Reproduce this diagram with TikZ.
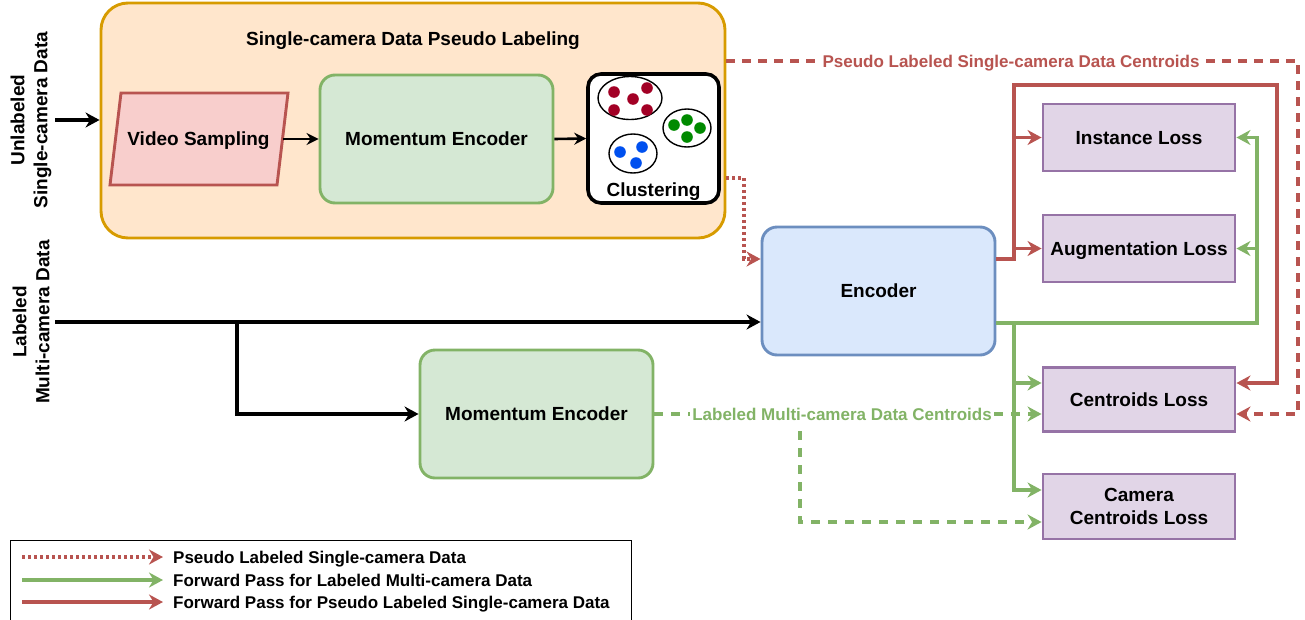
\documentclass[tikz,border=0pt]{standalone}
\usepackage{fontspec}
\setmainfont{Liberation Sans}
\usetikzlibrary{arrows.meta}

\definecolor{orfill}{HTML}{FFE6CC}
\definecolor{ordraw}{HTML}{D79B00}
\definecolor{pkfill}{HTML}{F8CECC}
\definecolor{rdline}{HTML}{B85450}
\definecolor{gnfill}{HTML}{D5E8D4}
\definecolor{gnline}{HTML}{82B366}
\definecolor{blfill}{HTML}{DAE8FC}
\definecolor{bldraw}{HTML}{6C8EBF}
\definecolor{pufill}{HTML}{E1D5E7}
\definecolor{pudraw}{HTML}{9673A6}
\definecolor{dotred}{HTML}{A20025}
\definecolor{dotgreen}{HTML}{008A00}
\definecolor{dotblue}{HTML}{0050EF}

\tikzset{
  bigtxt/.style={font=\fontsize{19}{23}\selectfont\bfseries},
  smalltxt/.style={font=\fontsize{17}{21}\selectfont\bfseries},
  capbig/.style={text height=13.6pt, text depth=0pt},
  capsmall/.style={text height=12.2pt, text depth=0pt},
  box/.style={bigtxt, draw, line width=2.9pt, align=center, inner sep=0pt},
  encbox/.style={box, capbig, rounded corners=15pt, minimum width=233pt, minimum height=128pt},
  lossbox/.style={box, fill=pufill, draw=pudraw, minimum width=192pt},
  tip/.style={-{Stealth[length=14pt,width=15pt,inset=4.5pt]}},
  conn/.style={tip, line width=3.3pt},
  blk/.style={conn, draw=black},
  redl/.style={conn, draw=rdline},
  grn/.style={conn, draw=gnline},
  reddash/.style={conn, draw=rdline, dash pattern=on 9pt off 7pt},
  grndash/.style={conn, draw=gnline, dash pattern=on 9pt off 8pt},
  reddot/.style={conn, draw=rdline, dash pattern=on 3pt off 3pt},
  edgelab/.style={smalltxt, capsmall, fill=white, inner xsep=2pt, inner ysep=3pt},
  legtxt/.style={smalltxt, capsmall, anchor=west, inner sep=0pt},
  clusterring/.style={draw=black, line width=1.4pt, fill=white},
}

\begin{document}
\begin{tikzpicture}[x=1pt,y=-1pt]
\useasboundingbox (0,0) rectangle (1305,619);

% pseudo labeling stage
\node[box, fill=orfill, draw=ordraw, rounded corners=27pt,
      minimum width=624pt, minimum height=235pt] (plbox) at (413,120.5) {};
\node[bigtxt, capbig] (pltitle) at (413,39) {Single-camera Data Pseudo Labeling};

% video sampling (parallelogram)
\draw[fill=pkfill, draw=rdline, line width=2.9pt, line join=miter]
  (110,185) -- (121,93) -- (288,93) -- (277,185) -- cycle;
\node[bigtxt, capbig] (vs) at (198.5,139) {Video Sampling};
\coordinate (vsR) at (282.5,139);

\node[encbox, fill=gnfill, draw=gnline] (me1) at (436.5,139) {Momentum Encoder};
\node[box, fill=white, draw=black, line width=3.6pt, rounded corners=13pt,
      minimum width=131pt, minimum height=129pt] (clus) at (653.5,138.5) {};
\node[bigtxt, capbig] (clustxt) at (653.5,190) {Clustering};

% clusters
\draw[clusterring] (630,98) ellipse [x radius=32pt, y radius=21.5pt];
\draw[clusterring] (687,128) ellipse [x radius=24pt, y radius=19pt];
\draw[clusterring] (633,153.5) ellipse [x radius=24pt, y radius=19.5pt];
\foreach \p in {(614,92),(647,88),(633,99),(614,110),(647,110)}
  \fill[dotred] \p circle (5.8pt);
\foreach \p in {(674,125),(687,120),(700,128),(687,137)}
  \fill[dotgreen] \p circle (5.8pt);
\foreach \p in {(620,152),(642,147),(636,163)}
  \fill[dotblue] \p circle (5.8pt);

% encoders
\node[encbox, fill=blfill, draw=bldraw] (enc) at (878.5,291) {Encoder};
\node[encbox, fill=gnfill, draw=gnline] (me2) at (536.5,414) {Momentum Encoder};

% losses
\node[lossbox, capbig, minimum height=67pt] (inst) at (1139,137.5) {Instance Loss};
\node[lossbox, capbig, minimum height=67pt] (aug) at (1139,248.5) {Augmentation Loss};
\node[lossbox, capbig, minimum height=64pt] (cent) at (1139,399.5) {Centroids Loss};
\node[lossbox, minimum height=65pt] (cam) at (1139,506.5) {Camera\\Centroids Loss};

% inputs
\node[bigtxt, rotate=90, align=center] (ulab) at (31,120) {Unlabeled\\Single-camera Data};
\node[bigtxt, rotate=90, align=center] (llab) at (31,322) {Labeled\\Multi-camera Data};
\coordinate (uin) at (55,120);
\coordinate (lin) at (55,322);
\coordinate (lbr) at (237,322);
\draw[blk] (uin) -- (uin -| plbox.west);
\draw[blk] (lin) -- (lin -| enc.west);
\draw[blk] (lbr) |- (me2.west);
\draw[blk, line width=2.6pt, -{Stealth[length=12pt,width=12pt,inset=4pt]}] (vsR) -- (me1.west);
\draw[blk, line width=2.6pt, -{Stealth[length=12pt,width=12pt,inset=4pt]}] (me1.east) -- (clus.west);

% pseudo labeled data into the encoder
\coordinate (dy) at (0,178);
\coordinate (dx) at (744,259);
\draw[reddot] (plbox.east |- dy) -| (dx) -- (enc.west |- dx);

% pseudo labeled centroids
\coordinate (ytop) at (0,61);
\coordinate (xr) at (1298,414);
\draw[reddash] (plbox.east |- ytop) -| (xr) -- (cent.east |- xr);
\node[edgelab, text=rdline] (pclab) at (1011,61) {Pseudo Labeled Single-camera Data Centroids};

% forward pass, pseudo labeled data
\coordinate (rj) at (1014,259);
\coordinate (rt) at (1014,85);
\coordinate (rr) at (1277,383);
\draw[redl] (enc.east |- rj) -- (rj) -- (rt) -| (rr) -- (cent.east |- rr);
\draw[redl] (rt |- inst.west) -- (inst.west);
\draw[redl] (rt |- aug.west) -- (aug.west);

% forward pass, labeled data
\coordinate (gj) at (1014,323);
\coordinate (gr) at (1257,137.5);
\coordinate (gc) at (0,383);
\coordinate (gm) at (0,490);
\draw[grn] (enc.east |- gj) -| (gr) -- (inst.east);
\draw[grn] (gr |- aug.east) -- (aug.east);
\draw[grn] (gj) |- (cent.west |- gc);
\draw[grn] (gj) |- (cam.west |- gm);

% labeled centroids
\coordinate (gd) at (800,414);
\coordinate (gb) at (0,522);
\draw[grndash] (me2.east) -- (cent.west |- me2.east);
\draw[grndash] (gd) |- (cam.west |- gb);
\node[edgelab, text=gnline] (lclab) at (842,414) {Labeled Multi-camera Data Centroids};

% legend
\draw[line width=1pt] (10,625) -- (10,540) -- (631,540) -- (631,625);
\coordinate (l1a) at (22,557);  \coordinate (l1b) at (163,557);
\coordinate (l2a) at (22,580);  \coordinate (l2b) at (163,580);
\coordinate (l3a) at (22,602);  \coordinate (l3b) at (163,602);
\draw[reddot] (l1a) -- (l1b);
\draw[grn] (l2a) -- (l2b);
\draw[redl] (l3a) -- (l3b);
\node[legtxt] (l1t) at (173,557) {Pseudo Labeled Single-camera Data};
\node[legtxt] (l2t) at (173,580) {Forward Pass for Labeled Multi-camera Data};
\node[legtxt] (l3t) at (173,602) {Forward Pass for Pseudo Labeled Single-camera Data};
\end{tikzpicture}
\end{document}
